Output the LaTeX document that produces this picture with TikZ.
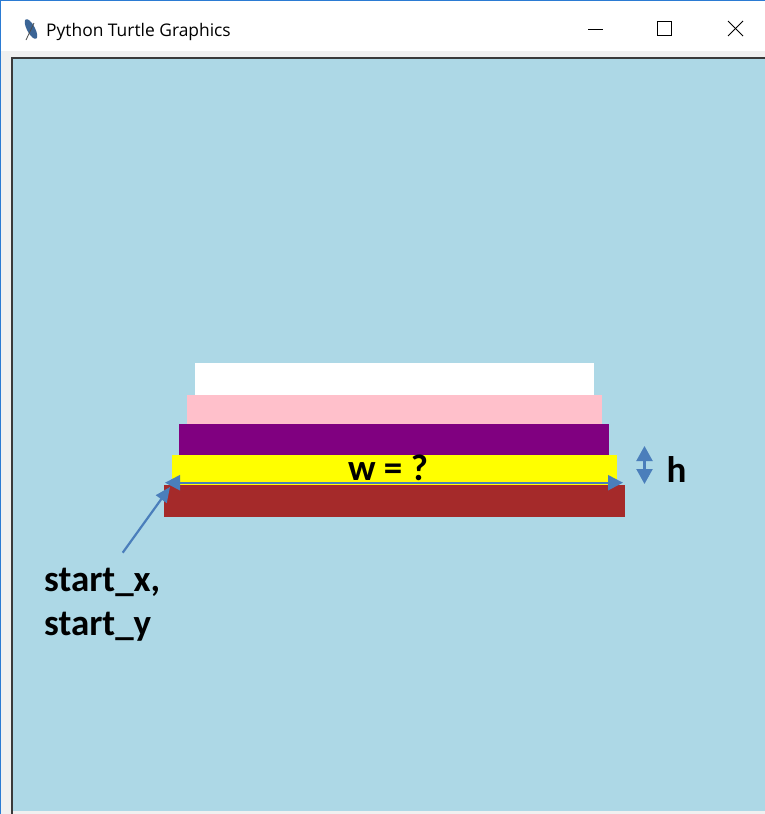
\documentclass[tikz,border=0pt]{standalone}
\usepackage{fontspec}
\setmainfont{Carlito}
\newfontfamily\titlefont{Open Sans}
\usetikzlibrary{arrows.meta}
\definecolor{canvasblue}{HTML}{ADD8E6}
\definecolor{winblue}{HTML}{2B7BD3}
\definecolor{chrome}{HTML}{F0F0F0}
\definecolor{framedark}{HTML}{3A3A3A}
\definecolor{cakepink}{HTML}{FFC0CB}
\definecolor{cakepurple}{HTML}{800080}
\definecolor{cakeyellow}{HTML}{FFFF00}
\definecolor{cakebrown}{HTML}{A52A2A}
\definecolor{arrowblue}{HTML}{4A7EBB}
\tikzset{
  layer/.style={draw=none},
  label/.style={font=\fontsize{37}{37}\selectfont\bfseries, inner sep=0pt, text=black},
  dimarrow/.style={draw=arrowblue, line width=2.2pt, {Triangle[length=15pt,width=15pt]}-{Triangle[length=15pt,width=15pt]}},
  hintarrow/.style={draw=arrowblue, line width=2.2pt, -{Triangle[length=15pt,width=13pt]}},
  winbtn/.style={draw=black, line width=1pt}
}
\begin{document}
\begin{tikzpicture}[x=1pt,y=-1pt]
\useasboundingbox (0,0) rectangle (765,814);
% window chrome
\fill[chrome] (0,0) rectangle (765,814);
\fill[white] (0,0) rectangle (765,51);
\fill[canvasblue] (13,58) rectangle (765,810.5);
\draw[framedark, line width=2pt] (12,814) -- (12,58) -- (765,58);
\draw[winblue, line width=1.2pt] (0.6,814) -- (0.6,0.6) -- (765,0.6);
% title bar
\begin{scope}[shift={(31,29)}]
  \fill[arrowblue!80!black, rotate=-62] (0,0) ellipse (11pt and 4pt);
  \draw[black!70, line width=0.8pt] (-5,11) -- (3,-6);
\end{scope}
\node[anchor=west, inner sep=0pt, font=\titlefont\fontsize{17.4}{17.4}\selectfont] (title) at (46,31.5) {Python Turtle Graphics};
\draw[winbtn] (588,29.5) -- (603,29.5);
\draw[winbtn] (657.5,21.5) rectangle (671.5,35.5);
\draw[winbtn] (728,21) -- (743,36);
\draw[winbtn] (743,21) -- (728,36);
% cake layers
\fill[white]        (195,363) rectangle (594,395);
\fill[cakepink]     (187,395) rectangle (602,425);
\fill[cakepurple]   (179,424) rectangle (609,456);
\fill[cakeyellow]   (172,455) rectangle (617,487);
\fill[cakebrown]    (164,485) rectangle (625,517);
% width arrow
\coordinate (wl) at (165,482.7);
\coordinate (wr) at (623,482.7);
\draw[dimarrow] (wl) -- (wr);
\node[label, anchor=base] (w) at (388,480) {w = ?};
% height arrow
\coordinate (ht) at (644.5,446);
\coordinate (hb) at (644.5,484);
\draw[draw=arrowblue, line width=2.2pt, {Triangle[length=15pt,width=16pt]}-{Triangle[length=15pt,width=16pt]}] (ht) -- (hb);
\node[label, anchor=base] (h) at (676.5,482) {h};
% start label
\node[label, anchor=base west] (sx) at (44,591) {start\_x,};
\node[label, anchor=base west] (sy) at (44,635) {start\_y};
\coordinate (tail) at (122.7,552.7);
\coordinate (tip) at (170,487);
\draw[hintarrow] (tail) -- (tip);
\end{tikzpicture}
\end{document}
